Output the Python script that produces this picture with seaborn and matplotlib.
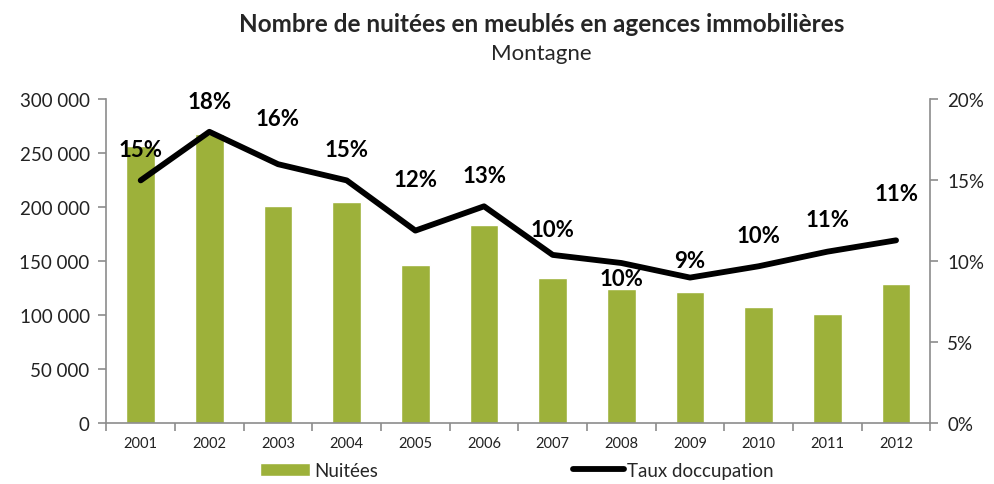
import numpy as np
import pandas as pd
import seaborn as sns
import matplotlib.pyplot as plt
from matplotlib.ticker import FuncFormatter
from matplotlib.patches import Patch
from matplotlib.lines import Line2D

# Data
years = ['2001', '2002', '2003', '2004', '2005', '2006',
         '2007', '2008', '2009', '2010', '2011', '2012']
nuitees = [257000, 268000, 201000, 205000, 147000, 184000,
           135000, 124000, 121500, 107500, 101500, 129000]
taux = [15.0, 18.0, 16.0, 15.0, 11.9, 13.4,
        10.4, 9.9, 9.0, 9.7, 10.6, 11.3]
taux_labels = ['15%', '18%', '16%', '15%', '12%', '13%',
               '10%', '10%', '9%', '10%', '11%', '11%']

# vertical offset of each data label, in points (Excel-like placement)
label_dy = [22, 22, 33, 22, 37, 22, 18, -11, 12, 22, 23, 34]

BAR_COLOR = '#9DB13A'
AXIS_COLOR = '#8C8C8C'

sns.set_theme(style='white')
plt.rcParams['font.family'] = ['Lato', 'DejaVu Sans']

df = pd.DataFrame({'annee': years, 'nuitees': nuitees, 'taux': taux})

fig = plt.figure(figsize=(9.94, 4.85), dpi=100)
ax = fig.add_axes([0.107, 0.125, 0.829, 0.668])

sns.barplot(data=df, x='annee', y='nuitees', color=BAR_COLOR,
            width=0.42, saturation=1, ax=ax)
ax.set_ylim(0, 300000)
ax.set_yticks(np.arange(0, 300001, 50000))
ax.yaxis.set_major_formatter(FuncFormatter(
    lambda v, p: f'{int(v):,}'.replace(',', ' ')))
ax.set_xlabel('')
ax.set_ylabel('')
ax.set_xlim(-0.5, len(years) - 0.5)

ax2 = ax.twinx()
sns.pointplot(data=df, x='annee', y='taux', color='black', markers='',
              linewidth=4.2, ax=ax2)
ax2.set_ylim(0, 20)
ax2.set_yticks(np.arange(0, 21, 5))
ax2.yaxis.set_major_formatter(FuncFormatter(lambda v, p: f'{int(v)}%'))
ax2.set_ylabel('')
ax2.set_xlim(-0.5, len(years) - 0.5)

for i, (v, lab) in enumerate(zip(taux, taux_labels)):
    ax2.annotate(lab, (i, v), xytext=(0, label_dy[i]),
                 textcoords='offset points', ha='center', va='center',
                 fontsize=16, fontweight='bold', color='black')

# spines and ticks
for a in (ax, ax2):
    for s in a.spines.values():
        s.set_visible(False)
ax.spines['left'].set_visible(True)
ax.spines['bottom'].set_visible(True)
ax2.spines['right'].set_visible(True)
for s in (ax.spines['left'], ax.spines['bottom'], ax2.spines['right']):
    s.set_color(AXIS_COLOR)
    s.set_linewidth(1.2)

ax.tick_params(axis='y', which='major', direction='out', length=6,
               width=1.2, color=AXIS_COLOR, labelsize=13.5, pad=6,
               labelcolor='#222222', left=True)
ax2.tick_params(axis='y', which='major', direction='out', length=6,
                width=1.2, color=AXIS_COLOR, labelsize=13.5, pad=6,
                labelcolor='#222222', right=True)

# category labels without ticks, ticks between categories
ax.tick_params(axis='x', which='major', length=0, labelsize=10.5, pad=9,
               labelcolor='#222222')
ax.set_xticks(np.arange(-0.5, len(years)), minor=True)
ax.tick_params(axis='x', which='minor', direction='out', length=6,
               width=1.2, color=AXIS_COLOR, bottom=True)

fig.text(0.545, 0.95, 'Nombre de nuitées en meublés en agences immobilières',
         ha='center', va='center', fontsize=17.5, fontweight='bold')
fig.text(0.545, 0.888, 'Montagne', ha='center', va='center', fontsize=16)

handles = [Patch(facecolor=BAR_COLOR, label='Nuitées'),
           Line2D([0], [0], color='black', linewidth=4.2, label='Taux doccupation')]
fig.legend(handles=handles, loc='center', bbox_to_anchor=(0.52, 0.028),
           ncol=2, frameon=False, fontsize=13.5, handlelength=2.7,
           handletextpad=0.2, columnspacing=10.4)

fig.savefig('out.png', dpi=100)
